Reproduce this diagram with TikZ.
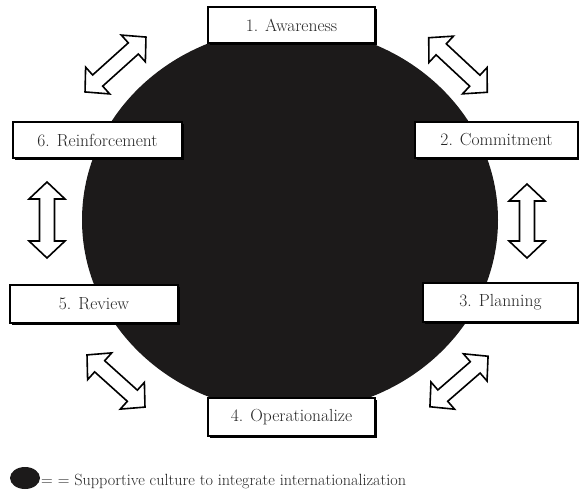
\documentclass[tikz,border=0pt]{standalone}
\usetikzlibrary{shadows}
\definecolor{blob}{HTML}{1C1A1A}
\tikzset{
  stage/.style={draw=black, line width=1.2pt, fill=white, inner sep=0pt,
    drop shadow={shadow xshift=1.6pt, shadow yshift=-1.6pt, opacity=1, fill=black},
    font=\fontsize{17.5}{19}\selectfont, text=black!85},
  dblarrow/.pic={
    \draw[line width=1.6pt, fill=white, line join=miter]
      ({-#1/2},0) -- ({-#1/2+17},18) -- ({-#1/2+17},7.5) -- ({#1/2-17},7.5)
      -- ({#1/2-17},18) -- ({#1/2},0) -- ({#1/2-17},-18) -- ({#1/2-17},-7.5)
      -- ({-#1/2+17},-7.5) -- ({-#1/2+17},-18) -- cycle;
  }
}
\begin{document}
\begin{tikzpicture}[x=1pt,y=-1pt]
\useasboundingbox (0,0) rectangle (579,490);
\fill[blob] (290,220) ellipse [x radius=208, y radius=192];

\node[stage, minimum width=167pt, minimum height=36pt] (s1) at (291.5,25) {1. Awareness};
\node[stage, minimum width=163pt, minimum height=36pt] (s2) at (496.5,140) {2. Commitment};
\node[stage, minimum width=155pt, minimum height=39pt] (s3) at (500.5,302.5) {3. Planning};
\node[stage, minimum width=167pt, minimum height=38pt] (s4) at (291.5,417) {4. Operationalize};
\node[stage, minimum width=168pt, minimum height=38pt] (s5) at (94,304) {5. Review};
\node[stage, minimum width=169pt, minimum height=36pt] (s6) at (97.5,140) {6. Reinforcement};

\pic[rotate=42] at (115.5,64.5) {dblarrow=82};
\pic[rotate=-43] at (458,65) {dblarrow=80};
\pic[rotate=90] at (47,220) {dblarrow=76};
\pic[rotate=90] at (527,221) {dblarrow=74};
\pic[rotate=-42] at (116,381) {dblarrow=78};
\pic[rotate=41] at (459,381.5) {dblarrow=77};

\fill[blob] (25,478) ellipse [x radius=15, y radius=11];
\node[anchor=base west, inner sep=0pt, font=\fontsize{16.2}{18}\selectfont, text=black!85] (legend) at (41,485) {= = Supportive culture to integrate internationalization};
\end{tikzpicture}
\end{document}
